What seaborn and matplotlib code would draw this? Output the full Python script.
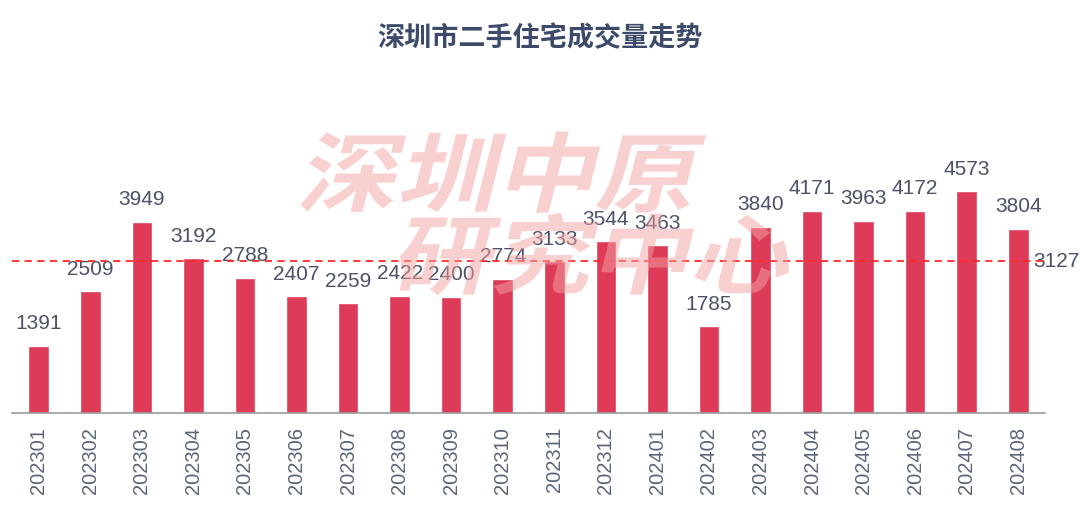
"""
深圳市二手住宅成交量走势 — monthly bar chart with mean line and watermark.
"""
import numpy as np
import pandas as pd
import matplotlib
matplotlib.use("Agg")
import matplotlib.pyplot as plt
from matplotlib.textpath import TextPath
from matplotlib.patches import PathPatch
from matplotlib.font_manager import FontProperties
from matplotlib.transforms import Affine2D, IdentityTransform
import seaborn as sns

months = [
    "202301", "202302", "202303", "202304", "202305", "202306", "202307",
    "202308", "202309", "202310", "202311", "202312", "202401", "202402",
    "202403", "202404", "202405", "202406", "202407", "202408",
]
volumes = [
    1391, 2509, 3949, 3192, 2788, 2407, 2259, 2422, 2400, 2774,
    3133, 3544, 3463, 1785, 3840, 4171, 3963, 4172, 4573, 3804,
]
title = "深圳市二手住宅成交量走势"
watermark = ["深圳中原", "研究中心"]

df = pd.DataFrame({"month": months, "volume": volumes})
mean_val = int(round(np.mean(volumes)))

sns.set_style("white")
plt.rcParams["font.family"] = ["Noto Sans CJK SC", "DejaVu Sans"]

W, H = 1080, 519
fig = plt.figure(figsize=(W / 100, H / 100), dpi=100)
ax = fig.add_axes([12 / W, (H - 413) / H, (1045 - 12) / W, 323 / H])

bar_color = "#dd3b57"
sns.barplot(data=df, x="month", y="volume", ax=ax, color=bar_color,
            width=0.4, saturation=1)
ax.set_xlim(-0.52, 19.52)
ax.set_ylim(0, 6663)

num_font = "Liberation Sans"
label_color = "#4b5168"

# value labels above bars
for i, v in enumerate(volumes):
    ax.annotate(str(v), (i, v), xytext=(0, 9), textcoords="offset points",
                ha="center", va="bottom", fontsize=15, color=label_color,
                family=num_font)

# mean line
ax.axhline(mean_val, color="#ff2a2a", lw=1.3, ls=(0, (4, 3)), zorder=4)
ax.annotate(str(mean_val), (19.3, mean_val), xytext=(0, 0),
            textcoords="offset points", ha="left", va="center",
            fontsize=15, color=label_color, family=num_font,
            annotation_clip=False)

ax.set_xlabel("")
ax.set_ylabel("")
ax.set_yticks([])
ax.tick_params(axis="x", length=0, pad=10, labelsize=14.5, labelcolor="#5b6479")
for lab in ax.get_xticklabels():
    lab.set_rotation(90)
    lab.set_family(num_font)
for side in ["top", "right", "left"]:
    ax.spines[side].set_visible(False)
ax.spines["bottom"].set_color("#9a9a9a")
ax.spines["bottom"].set_linewidth(1.2)

fig.text(0.5, (H - 38) / H, title, ha="center", va="center",
         fontsize=19.5, fontweight="bold", color="#3d4a6a")

# skewed watermark drawn in pixel coordinates
fp = FontProperties(family="Noto Sans CJK SC", weight="black")
rows = [(296, H - 205), (390, H - 287)]
for text, (x0, y0) in zip(watermark, rows):
    tp = TextPath((0, 0), text, size=92, prop=fp)
    tr = Affine2D().scale(1.08, 0.94).skew_deg(14, 0).translate(x0, y0)
    patch = PathPatch(tr.transform_path(tp), facecolor="#f4a3a3",
                      edgecolor="none", alpha=0.5,
                      transform=IdentityTransform(), zorder=10)
    fig.add_artist(patch)

fig.savefig("out.png", dpi=100)
